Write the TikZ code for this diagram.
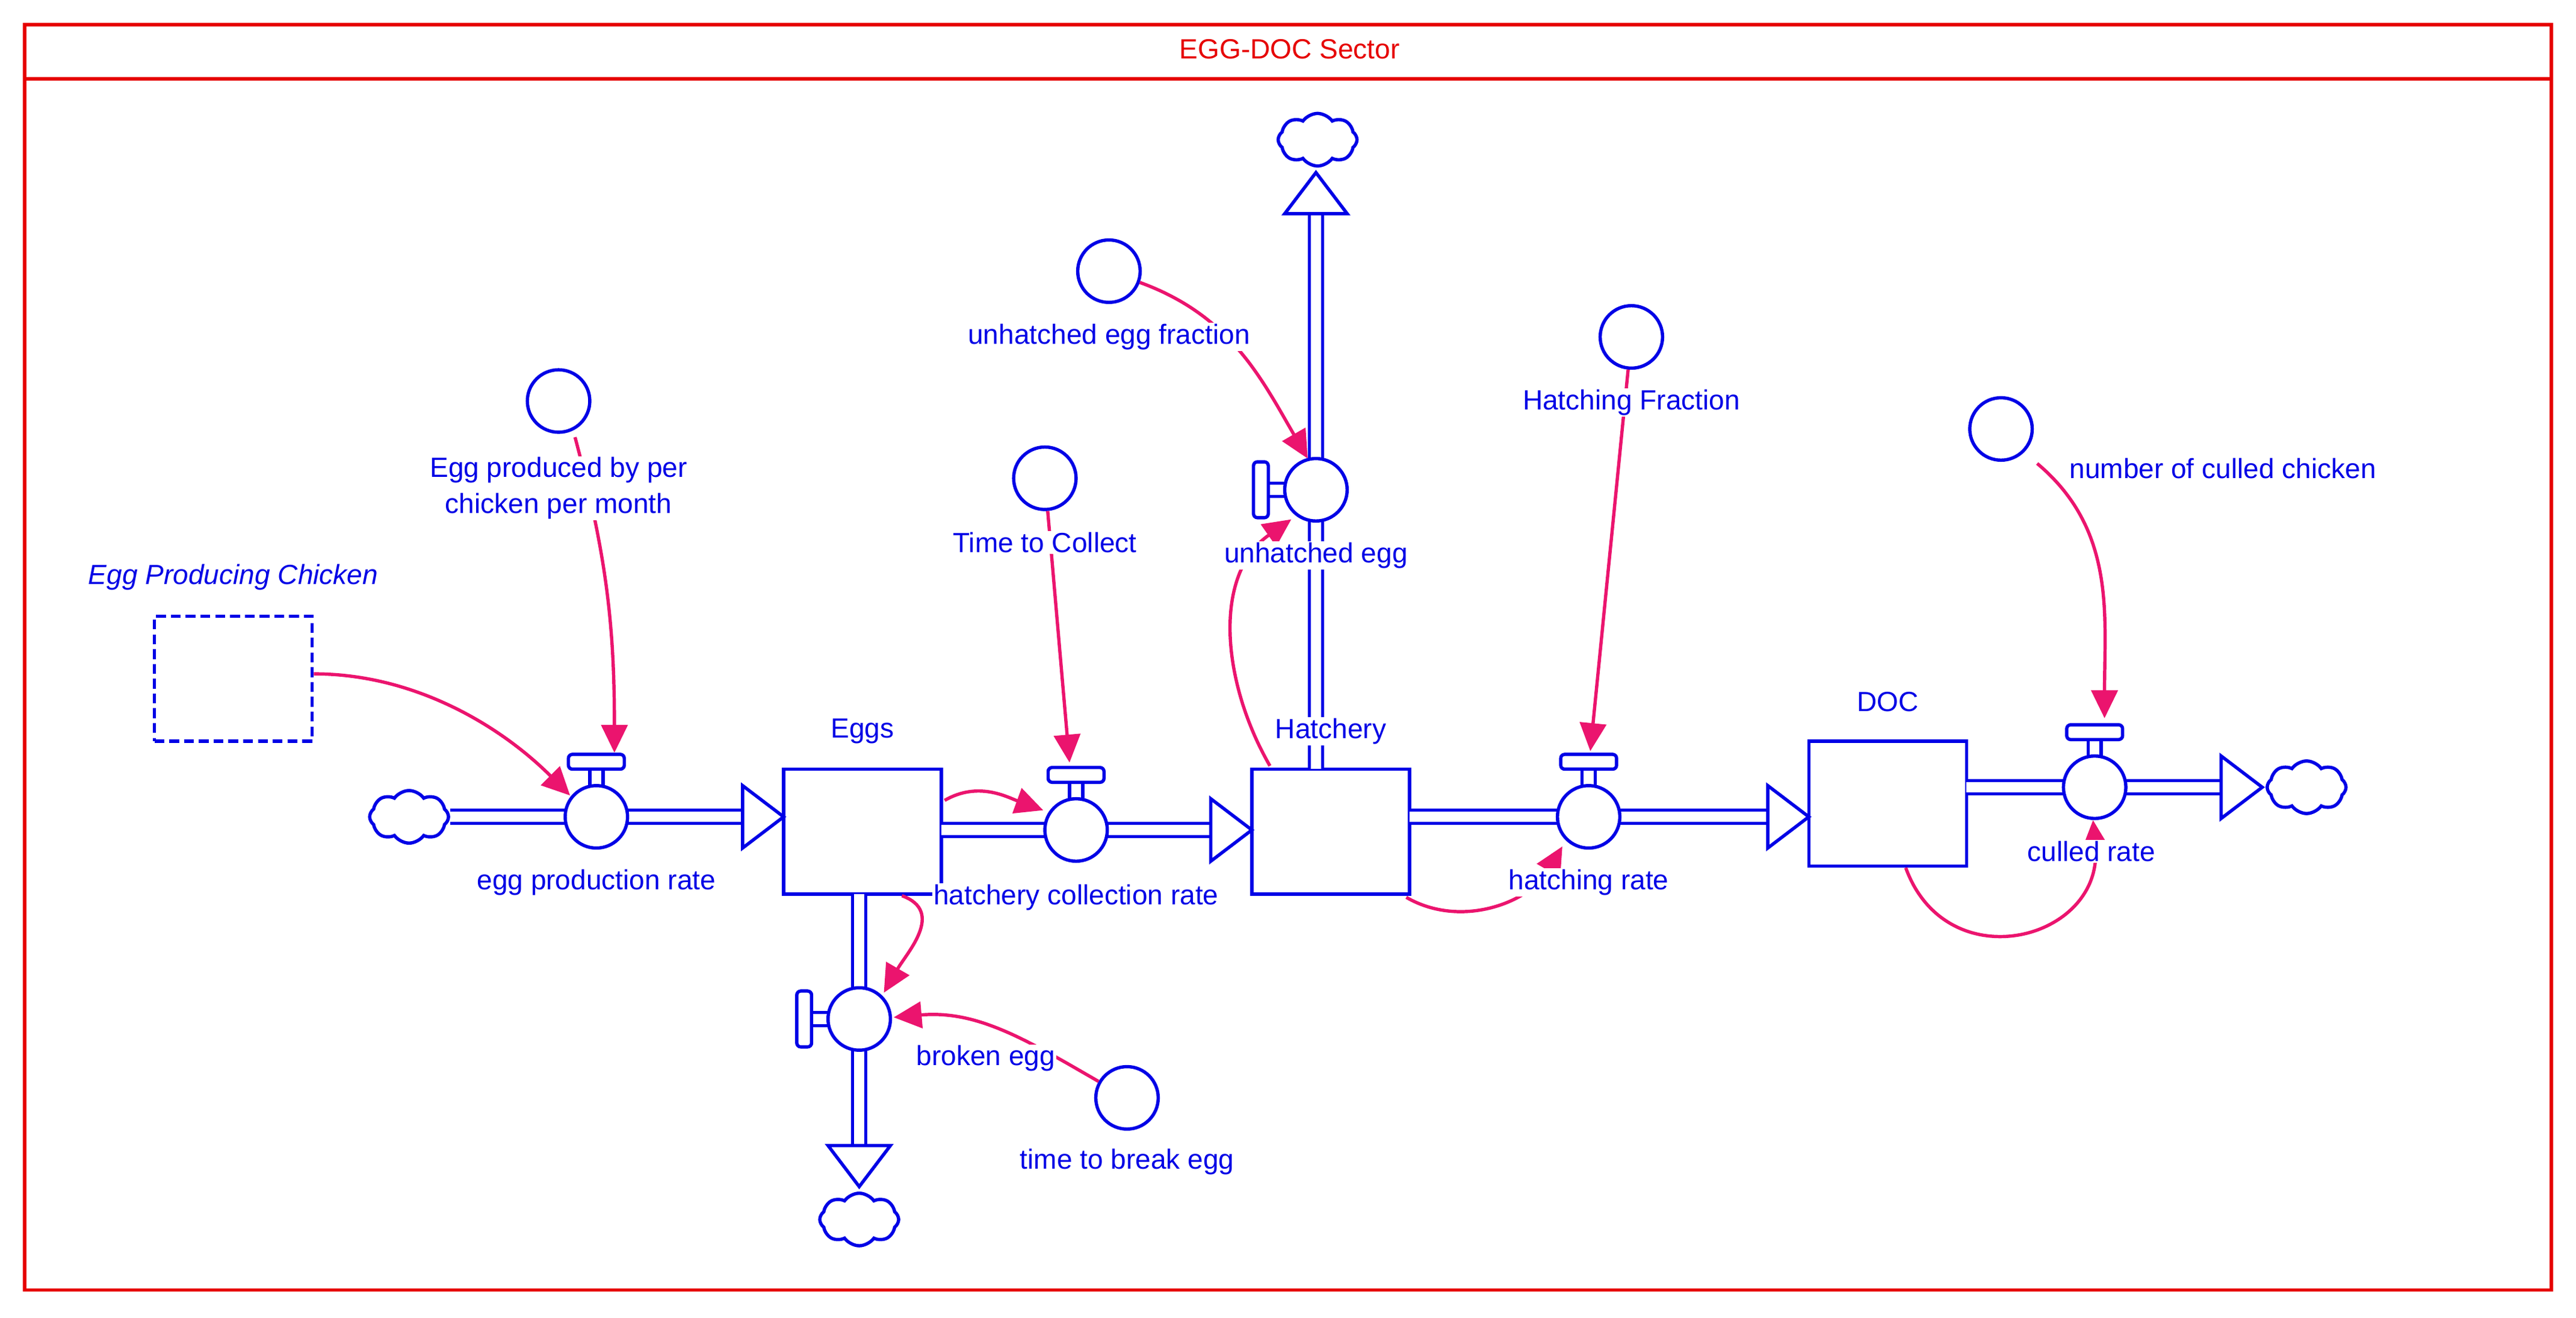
\documentclass[tikz,border=0pt]{standalone}
\usepackage{fontspec}
\setmainfont{Liberation Sans}
\usetikzlibrary{shapes.symbols,arrows.meta,calc}
\definecolor{fb}{RGB}{0,0,230}
\definecolor{cp}{RGB}{235,20,110}
\definecolor{fr}{RGB}{230,0,0}
\begin{document}
\begin{tikzpicture}[x=0.05cm,y=-0.05cm,
  font=\fontsize{24}{29}\selectfont,
  lbl/.style={text=fb,align=center,inner sep=1pt,fill=white},
  stock/.style={draw=fb,line width=0.1cm,minimum width=4.8cm,minimum height=3.8cm,inner sep=0},
  aux/.style={circle,draw=fb,line width=0.1cm,minimum size=1.9cm,inner sep=0,fill=white},
  valve/.style={circle,draw=fb,line width=0.1cm,minimum size=1.9cm,inner sep=0,fill=white},
  cld/.style={cloud,cloud puffs=8,cloud puff arc=110,aspect=1.6,draw=fb,line width=0.1cm,minimum width=2.4cm,minimum height=1.6cm,inner sep=0,fill=white},
  pipe/.style={draw=fb,line width=0.1cm,double=white,double distance=0.3cm},
  head/.style={draw=fb,line width=0.1cm,fill=white,line join=miter},
  con/.style={draw=cp,line width=0.1cm,-{Triangle[length=0.85cm,width=0.8cm]}},
  hnd/.style={draw=fb,line width=0.1cm,fill=white,rounded corners=0.12cm}]
\useasboundingbox (0,0) rectangle (1568,801.6);
% frame
\draw[fr,line width=0.1cm] (15,15) rectangle (1553,785);
\draw[fr,line width=0.1cm] (15,48) -- (1553,48);
\node[text=fr] (title) at (785,30) {EGG-DOC Sector};
% stocks
\node[stock] (eggs) at (525,506) {};
\node[stock] (hat) at (810,506) {};
\node[stock] (doc) at (1149,489) {};
\node[stock,dash pattern=on 0.3cm off 0.15cm] (epc) at (142,413) {};
% clouds
\node[cld] (c1) at (249,497) {};
\node[cld] (c2) at (1404,479) {};
\node[cld] (c3) at (523,742) {};
\node[cld] (c4) at (802,85) {};
% pipes
\draw[pipe] (c1.east) -- (452,497);
\draw[head] (477,497) -- (452,478) -- (452,516) -- cycle;
\draw[pipe] (573,505) -- (737,505);
\draw[head] (762,505) -- (737,486) -- (737,524) -- cycle;
\draw[pipe] (858,497) -- (1076,497);
\draw[head] (1101,497) -- (1076,478) -- (1076,516) -- cycle;
\draw[pipe] (1197,479) -- (1352,479);
\draw[head] (1377,479) -- (1352,460) -- (1352,498) -- cycle;
\draw[pipe] (523,544) -- (523,697);
\draw[head] (523,722) -- (504,697) -- (542,697) -- cycle;
\draw[pipe] (801,468) -- (801,130);
\draw[head] (801,105) -- (782,130) -- (820,130) -- cycle;
% valves with handles
\foreach \x/\y in {363/497,655/505,967/497,1275/479}{
  \draw[fb,line width=0.1cm] (\x-4,\y-30) -- (\x-4,\y-18) (\x+4,\y-30) -- (\x+4,\y-18);
  \draw[hnd] (\x-17,\y-38) rectangle (\x+17,\y-29);
}
\foreach \x/\y in {523/620,801/298}{
  \draw[fb,line width=0.1cm] (\x-30,\y-4) -- (\x-18,\y-4) (\x-30,\y+4) -- (\x-18,\y+4);
  \draw[hnd] (\x-38,\y-17) rectangle (\x-29,\y+17);
}
\node[valve] (v1) at (363,497) {};
\node[valve] (v2) at (655,505) {};
\node[valve] (v3) at (967,497) {};
\node[valve] (v4) at (1275,479) {};
\node[valve] (v5) at (523,620) {};
\node[valve] (v6) at (801,298) {};
% auxiliaries
\node[aux] (a1) at (340,244) {};
\node[aux] (a2) at (636,291) {};
\node[aux] (a3) at (675,165) {};
\node[aux] (a4) at (993,205) {};
\node[aux] (a5) at (1218,261) {};
\node[aux] (a6) at (686,668) {};
% connectors
\draw[con] (epc.east |- 0,410) to[out=0,in=135,looseness=0.9] (347,484);
\draw[con] (350,266) to[out=-75,in=90] (374,458);
\draw[con] (a2) -- (651,464);
\draw[con] (575,487) to[out=30,in=160] (635,493);
\draw[con] (a3) to[out=-20,in=120] (796,279);
\draw[con] (773,466) to[out=120,in=215] (786,316);
\draw[con] (a4) -- (968,457);
\draw[con] (856,546) to[out=-30,in=240] (951,515);
\draw[con] (1240,282) to[out=-40,in=90] (1281,437);
\draw[con] (1160,528) to[out=-70,in=-85,looseness=1.6] (1274,499);
\draw[con] (549,545) to[out=-20,in=60,looseness=1.2] (538,604);
\draw[con] (a6) to[out=150,in=5] (544,619);
% labels
\node[lbl] (eggsL) at (525,445) {Eggs};
\node[lbl] (hatL) at (810,445) {Hatchery};
\node[lbl] (docL) at (1149,427) {DOC};
\node[lbl,font=\fontsize{24}{29}\selectfont\itshape] (epcL) at (142,351) {Egg Producing Chicken};
\node[lbl] at (363,537) {egg production rate};
\node[lbl] at (655,546) {hatchery collection rate};
\node[lbl] at (967,537) {hatching rate};
\node[lbl] at (1273,518) {culled rate};
\node[lbl] at (600,644) {broken egg};
\node[lbl] at (801,338) {unhatched egg};
\node[lbl] at (340,297) {Egg produced by per\\[2pt]chicken per month};
\node[lbl] at (636,330) {Time to Collect};
\node[lbl] at (675,205) {unhatched egg fraction};
\node[lbl] at (993,245) {Hatching Fraction};
\node[lbl] at (1353,285) {number of culled chicken};
\node[lbl] at (686,707) {time to break egg};
\end{tikzpicture}
\end{document}
